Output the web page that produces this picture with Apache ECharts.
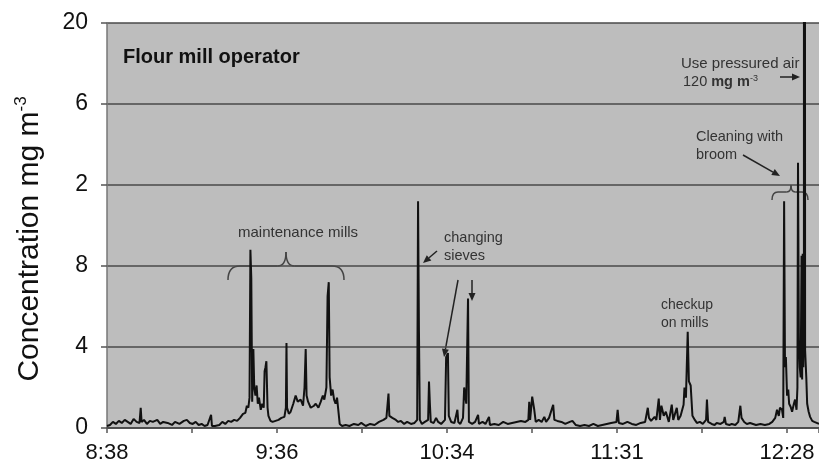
<!DOCTYPE html>
<html>
<head>
<meta charset="utf-8">
<script src="https://cdn.jsdelivr.net/npm/echarts@6/dist/echarts.min.js"></script>
<style>html,body{margin:0;padding:0;background:#fff}#c{width:819px;height:466px}</style>
</head>
<body>
<div id="c"></div>
<script>
// minutes after 8:38
const tickLabelsX = ['8:38', '9:36', '10:34', '11:31', '12:28'];
const tickLabelsY = ['0', '4', '8', '2', '6', '20'];
const labelStepMin = 57.5;

const times = [
0,1,2,3,4,5,6,7,8,9,10,11,11.4,11.7,12.5,13.5,14.5,15.5,17,18,19,20.5,22,23,24.5,26,27,28,29,30,31,32,33,34,35.2,35.5,36.5,38,39,40,41,42,43,44,45,46,46.8,
47.3,47.8,48.2,48.5,48.8,49.1,49.5,49.8,50.2,50.6,51,51.4,52,52.5,53,53.3,53.6,53.9,54.3,54.6,55.3,56,57,58,59,60,60.5,60.7,60.9,61.5,62.1,63,63.8,64.5,65.5,66.3,66.8,67.2,67.5,68,68.9,70,70.6,71.5,72.3,73,73.5,74.2,74.6,75,75.3,75.8,76.3,76.8,77.3,77.8,78.4,78.7,79.5,
80.7,82,83.5,85,86,87.5,89,90.5,92,93.5,94.5,95.2,95.5,96.5,97.7,98.5,99.4,100.5,101.5,102.8,104,104.9,105.2,105.5,105.8,106.5,107.5,108.6,108.9,109.2,109.5,110.5,111.3,112,113,114.3,114.7,115.3,115.6,116.4,117.5,118.5,118.8,119.5,120.4,120.8,121.5,122.1,122.4,123.5,124.5,125.5,125.8,127,128,129.2,129.5,131,132.5,134,135.5,137,138.5,140,141.5,142.5,142.8,143.1,
143.8,144.2,144.5,145,146,147,147.9,148.5,149.5,150.9,151.3,152.3,153.7,155,156.5,157.4,158.5,160,161.5,163,164.5,166,167.5,169,170.5,172.3,172.7,173.1,174.5,176,177.5,179,180.5,182,182.9,183.3,184,185.2,185.8,186.6,187,187.5,188.3,189,190,191,191.5,192.7,193.2,194,195,195.3,195.8,196.4,196.8,197.4,198,198.8,199.5,200.5,201.5,202.6,202.9,203.3,204.5,205.5,206.2,207.5,208.6,208.9,209.3,210.5,211.3,212.5,213.5,214.2,214.6,215.5,216.4,217.5,218.5,219.5,221,222.5,224,225,226,226.6,227.2,227.6,228.3,228.7,229,229.3,229.6,230,230.4,230.7,231.2,231.7,232.3,232.7,233.2,233.5,233.7,234,234.3,234.6,234.9,235.1,235.3,235.5,235.7,235.8,236.1,236.5,236.8,237.3,237.8,238.5,239.2,240,240.8
];
const conc = [
0.1,0.15,0.3,0.2,0.35,0.25,0.4,0.3,0.2,0.45,0.3,0.25,1.0,0.3,0.4,0.2,0.35,0.3,0.4,0.2,0.3,0.25,0.15,0.3,0.2,0.35,0.4,0.25,0.2,0.3,0.15,0.2,0.1,0.15,0.65,0.1,0.1,0.15,0.3,0.2,0.35,0.3,0.4,0.35,0.5,0.7,0.75,
1.1,1.0,1.5,8.8,7.4,1.3,3.9,2.0,1.6,2.1,1.2,1.5,0.9,1.2,1.0,2.8,3.0,3.3,1.0,0.6,0.35,0.3,0.35,0.4,0.5,0.55,1.0,4.2,1.0,0.7,0.8,1.2,1.6,1.3,1.4,1.1,2.0,3.9,1.6,1.3,1.0,1.1,1.2,1.0,1.3,1.6,1.4,2.0,6.5,7.2,2.5,1.6,1.9,1.4,1.2,1.5,1.5,0.2,0.1,
0.15,0.1,0.2,0.15,0.25,0.1,0.2,0.15,0.3,0.4,0.5,1.7,0.6,0.5,0.4,0.3,0.35,0.2,0.3,0.2,0.25,0.4,11.2,4.8,0.4,0.2,0.3,0.4,2.3,1.2,0.3,0.25,0.5,0.3,0.2,0.4,3.5,3.7,0.6,0.3,0.25,0.9,0.3,0.2,0.5,2.0,1.2,6.4,0.3,0.2,0.3,0.65,0.2,0.3,0.2,0.55,0.15,0.2,0.15,0.3,0.2,0.25,0.3,0.35,0.3,0.4,1.3,0.4,
1.55,1.5,0.9,0.3,0.4,0.3,0.55,0.3,0.5,1.15,0.4,0.35,0.3,0.2,0.3,0.35,0.15,0.1,0.15,0.1,0.2,0.1,0.15,0.2,0.25,0.3,0.9,0.25,0.2,0.3,0.2,0.15,0.25,0.3,1.0,0.5,0.35,0.55,0.4,1.45,0.4,1.1,0.6,0.8,0.3,1.15,0.4,1.0,0.4,0.6,1.15,2.0,1.5,4.75,2.3,2.1,0.6,0.4,0.25,0.3,0.2,0.4,1.4,0.3,0.2,0.15,0.25,0.2,0.3,0.55,0.2,0.15,0.2,0.15,0.3,1.1,0.5,0.3,0.2,0.25,0.2,0.15,0.2,0.15,0.2,0.3,0.5,0.9,0.6,1.0,0.9,0.5,11.2,3.0,3.5,1.6,1.9,1.2,1.05,0.8,1.2,1.4,0.9,2.0,13.1,4.35,3.0,2.5,8.5,2.4,8.6,3.0,8.6,120,3.85,2.5,1.2,0.8,0.55,0.35,0.3,0.25,0.2
];

const seriesData = times.map((t, i) => [t, conc[i]]);

function arrow(x1, y1, x2, y2) {
  const a = Math.atan2(y2 - y1, x2 - x1), L = 8, W = 3.5;
  const c = Math.cos(a), s = Math.sin(a);
  const bx = x2 - L * c, by = y2 - L * s;
  return [
    {type: 'line', shape: {x1, y1, x2: bx, y2: by}, style: {stroke: '#222', lineWidth: 1.5}},
    {type: 'polygon', shape: {points: [[x2, y2], [bx - W * s, by + W * c], [bx + W * s, by - W * c]]}, style: {fill: '#222'}}
  ];
}
function brace(xl, xm, xr, yEnd, yBar, yTip, r) {
  const st = {stroke: '#444', lineWidth: 1.5, fill: null};
  return [
    {type: 'bezierCurve', shape: {x1: xl, y1: yEnd, x2: xl + r, y2: yBar, cpx1: xl, cpy1: yBar}, style: st},
    {type: 'line', shape: {x1: xl + r, y1: yBar, x2: xm - r * 0.7, y2: yBar}, style: st},
    {type: 'bezierCurve', shape: {x1: xm - r * 0.7, y1: yBar, x2: xm, y2: yTip, cpx1: xm, cpy1: yBar}, style: st},
    {type: 'bezierCurve', shape: {x1: xm, y1: yTip, x2: xm + r * 0.7, y2: yBar, cpx1: xm, cpy1: yBar}, style: st},
    {type: 'line', shape: {x1: xm + r * 0.7, y1: yBar, x2: xr - r, y2: yBar}, style: st},
    {type: 'bezierCurve', shape: {x1: xr - r, y1: yBar, x2: xr, y2: yEnd, cpx1: xr, cpy1: yBar}, style: st}
  ];
}
const F = 'Arial, "Liberation Sans", sans-serif';
function txt(t, x, y, size, opt) {
  return {type: 'text', style: Object.assign({text: t, x, y, font: size + 'px ' + F, fill: '#333', textVerticalAlign: 'middle'}, opt || {})};
}

const graphics = [
  txt('Flour mill operator', 123, 57, 20, {font: 'bold 20px ' + F, fill: '#111'}),
  txt('Use pressured air', 681, 64, 15),
  {type: 'text', style: {x: 683, y: 82, textVerticalAlign: 'middle', fill: '#333',
    text: '{a|120 }{b|mg m}{c|-3}',
    rich: {a: {fontSize: 14.5, fontFamily: 'Arial', color: '#333', lineHeight: 16}, b: {fontSize: 14.5, fontFamily: 'Arial', fontWeight: 'bold', color: '#333', lineHeight: 16}, c: {fontSize: 9, fontFamily: 'Arial', color: '#333', verticalAlign: 'top', lineHeight: 16}}}},
  txt('Cleaning with', 696, 137, 14.5),
  txt('broom', 696, 155, 14.5),
  txt('maintenance mills', 238, 233, 15),
  txt('changing', 444, 238, 14.5),
  txt('sieves', 444, 256, 14.5),
  txt('checkup', 661, 305, 14),
  txt('on mills', 661, 323, 14)
].concat(
  brace(228, 286, 344, 280, 266, 252, 12),
  brace(772, 791, 808, 200, 192, 185, 6),
  arrow(780, 77, 800, 77), arrow(743, 155, 780, 176), arrow(437, 251, 423, 263), arrow(458, 280, 444, 357), arrow(472, 280, 472, 301));

const chart = echarts.init(document.getElementById('c'), null, {renderer: 'canvas'});
chart.setOption({
  animation: false,
  backgroundColor: '#fff',
  grid: {left: 107, right: 0, top: 23, bottom: 38, show: true, backgroundColor: '#bdbdbd', borderWidth: 0, containLabel: false, outerBoundsMode: 'none'},
  xAxis: {
    type: 'value', min: 0, max: 240.8, interval: labelStepMin / 2,
    axisLine: {show: true, lineStyle: {color: '#444', width: 1.5}},
    axisTick: {show: true, length: 5, lineStyle: {color: '#555', width: 1.5}},
    splitLine: {show: false},
    axisLabel: {
      color: '#111', fontSize: 22, fontFamily: F, margin: 14,
      formatter: v => {
        const k = v / labelStepMin, r = Math.round(k);
        return Math.abs(k - r) < 0.01 && r < tickLabelsX.length ? tickLabelsX[r] : '';
      }
    }
  },
  yAxis: {
    type: 'value', min: 0, max: 20, interval: 4,
    name: '{a|Concentration mg m}{b|-3}', nameLocation: 'middle', nameGap: 60, nameRotate: 90,
    nameTextStyle: {padding: [0, 27, 0, 0], rich: {a: {fontSize: 30, fontFamily: F, color: '#111', lineHeight: 34}, b: {fontSize: 17, fontFamily: F, color: '#111', verticalAlign: 'top', lineHeight: 34}}},
    axisLine: {show: true, lineStyle: {color: '#777', width: 1.5}},
    axisTick: {show: true, length: 6, lineStyle: {color: '#555', width: 1.5}},
    splitLine: {show: true, lineStyle: {color: '#4a4a4a', width: 1.5}},
    axisLabel: {color: '#111', fontSize: 23, fontFamily: F, margin: 19,
      formatter: v => tickLabelsY[Math.round(v / 4)]}
  },
  series: [{
    type: 'line', data: seriesData, showSymbol: false, clip: true,
    lineStyle: {color: '#111', width: 2}
  }],
  graphic: graphics
});
</script>
</body>
</html>
